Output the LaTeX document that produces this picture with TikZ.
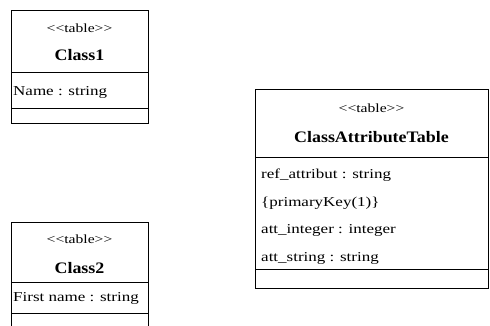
\documentclass[tikz,border=0pt]{standalone}
\usepackage{fontspec}
\setmainfont{Liberation Serif}
\newfontfamily\umlreg{Liberation Serif}[FakeStretch=1.25]
\newfontfamily\umlbold{Liberation Serif}[FakeStretch=1.12,BoldFont={Liberation Serif Bold}]
\begin{document}
\begin{tikzpicture}[x=1pt,y=-1pt,
  box/.style={draw, line width=0.9pt, fill=white, inner sep=0pt, anchor=north west},
  sep/.style={line width=0.9pt},
  stereo/.style={inner sep=0pt, font=\umlreg\fontsize{12.5}{14}\selectfont},
  title/.style={inner sep=0pt, font=\umlbold\bfseries\fontsize{16}{18}\selectfont},
  attr/.style={inner sep=0pt, anchor=west, font=\umlreg\fontsize{13.6}{15}\selectfont}]
\useasboundingbox[fill=white] (0,0) rectangle (490,326);

% Class1
\node[box, minimum width=137pt, minimum height=113pt] (c1) at (11,10) {};
\draw[sep] (c1.west |- 0,72) -- (c1.east |- 0,72);
\draw[sep] (c1.west |- 0,108) -- (c1.east |- 0,108);
\node[stereo] (c1s) at (79.5,28) {<<table>>};
\node[title] (c1t) at (79.5,55) {Class1};
\node[attr] (c1a) at (13,92) {Name : string};

% Class2 (runs past the lower edge)
\node[box, minimum width=137pt, minimum height=130pt] (c2) at (11,222) {};
\draw[sep] (c2.west |- 0,282) -- (c2.east |- 0,282);
\draw[sep] (c2.west |- 0,313) -- (c2.east |- 0,313);
\node[stereo] (c2s) at (79.5,239) {<<table>>};
\node[title] (c2t) at (79.5,268) {Class2};
\node[attr] (c2a) at (13,298) {First name : string};

% ClassAttributeTable
\node[box, minimum width=233pt, minimum height=199pt] (cat) at (255,89) {};
\draw[sep] (cat.west |- 0,157) -- (cat.east |- 0,157);
\draw[sep] (cat.west |- 0,269) -- (cat.east |- 0,269);
\node[stereo] (cats) at (371.5,108) {<<table>>};
\node[title] (catt) at (371.5,137) {ClassAttributeTable};
\node[attr] (cata1) at (261,175) {ref\_attribut : string};
\node[attr] (cata2) at (261,203) {\{primaryKey(1)\}};
\node[attr] (cata3) at (261,230) {att\_integer : integer};
\node[attr] (cata4) at (261,258) {att\_string : string};
\end{tikzpicture}
\end{document}
